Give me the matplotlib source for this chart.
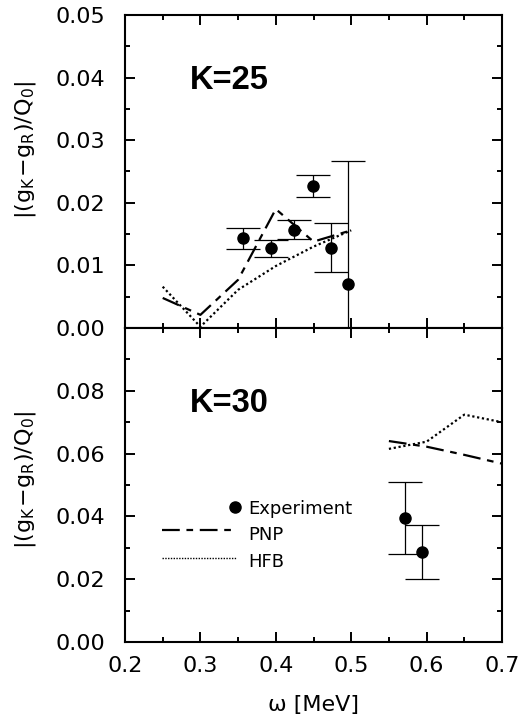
import matplotlib
matplotlib.use("Agg")
import matplotlib.pyplot as plt
from matplotlib.ticker import MultipleLocator, FuncFormatter

plt.rcParams['font.family'] = ['DejaVu Sans']
plt.rcParams['mathtext.fontset'] = 'custom'
plt.rcParams['mathtext.rm'] = 'DejaVu Sans'
plt.rcParams['mathtext.it'] = 'DejaVu Sans'
plt.rcParams['mathtext.bf'] = 'DejaVu Sans:bold'

# ---- data: K=25 panel ----
exp25_w = [0.357, 0.394, 0.424, 0.449, 0.473, 0.496]
exp25_y = [0.0143, 0.0127, 0.0157, 0.0227, 0.0128, 0.0070]
exp25_err = [0.00165, 0.0014, 0.0015, 0.0018, 0.0039, 0.0196]
pnp25_w = [0.25, 0.30, 0.35, 0.40, 0.45, 0.50]
pnp25_y = [0.0048, 0.0021, 0.0077, 0.0190, 0.0138, 0.0156]
hfb25_w = [0.25, 0.30, 0.35, 0.40, 0.45, 0.50]
hfb25_y = [0.0066, 0.0002, 0.0061, 0.0099, 0.0130, 0.0156]

# ---- data: K=30 panel ----
exp30_w = [0.572, 0.594]
exp30_y = [0.0395, 0.0288]
exp30_err = [0.0114, 0.0086]
pnp30_w = [0.55, 0.60, 0.65, 0.70]
pnp30_y = [0.0640, 0.0622, 0.0596, 0.0568]
hfb30_w = [0.55, 0.60, 0.65, 0.70]
hfb30_y = [0.0615, 0.0638, 0.0724, 0.0700]

xticks = [0.2, 0.3, 0.4, 0.5, 0.6, 0.7]
legend_labels = ["Experiment", "PNP", "HFB"]
ylabel_txt = r'$\mathrm{|(g_K\!-\!g_R)/Q_0|}$'

W, H = 521, 719
fig = plt.figure(figsize=(W / 100, H / 100), dpi=100)
L, R = 125, 502
T, M, B = 15, 328, 642
ax1 = fig.add_axes([L / W, (H - M) / H, (R - L) / W, (M - T) / H])
ax2 = fig.add_axes([L / W, (H - B) / H, (R - L) / W, (B - M) / H])

dash_pnp = (8, 3, 3, 3)
dot_hfb = (1, 1.2)
ms = 8
cap = 12

for ax in (ax1, ax2):
    ax.set_xlim(0.2, 0.7)
    ax.xaxis.set_major_locator(MultipleLocator(0.1))
    ax.xaxis.set_minor_locator(MultipleLocator(0.05))
    ax.tick_params(which='both', direction='in', top=True, right=True,
                   width=1.4, labelsize=16)
    ax.tick_params(which='major', length=7)
    ax.tick_params(which='minor', length=3.5)
    ax.tick_params(axis='y', pad=14)
    ax.tick_params(axis='x', pad=10)
    for s in ax.spines.values():
        s.set_linewidth(1.5)

fmt2 = FuncFormatter(lambda v, p: "" if v > 0.095 else f"{v:.2f}")

# top panel
ax1.set_ylim(0, 0.05)
ax1.yaxis.set_major_locator(MultipleLocator(0.01))
ax1.yaxis.set_minor_locator(MultipleLocator(0.005))
ax1.yaxis.set_major_formatter(fmt2)
ax1.tick_params(labelbottom=False)
ax1.plot(pnp25_w, pnp25_y, color='black', lw=1.6, dashes=dash_pnp)
ax1.plot(hfb25_w, hfb25_y, color='black', lw=1.6, dashes=dot_hfb)
ax1.errorbar(exp25_w, exp25_y, yerr=exp25_err, fmt='o', color='black',
             ms=ms, elinewidth=0.9, capsize=cap, capthick=0.9)
ax1.text(0.172, 0.764, "K=25", transform=ax1.transAxes, fontsize=23.5,
         fontweight='bold', va='baseline', ha='left',
         family=['Liberation Sans', 'DejaVu Sans'])

# bottom panel
ax2.set_ylim(0, 0.10)
ax2.yaxis.set_major_locator(MultipleLocator(0.02))
ax2.yaxis.set_minor_locator(MultipleLocator(0.01))
ax2.yaxis.set_major_formatter(fmt2)
ax2.set_xticks(xticks)
ax2.set_xticklabels([f"{v:.1f}" for v in xticks])
ax2.plot(pnp30_w, pnp30_y, color='black', lw=1.6, dashes=dash_pnp)
ax2.plot(hfb30_w, hfb30_y, color='black', lw=1.6, dashes=dot_hfb)
ax2.errorbar(exp30_w, exp30_y, yerr=exp30_err, fmt='o', color='black',
             ms=ms, elinewidth=0.9, capsize=cap, capthick=0.9)
ax2.text(0.172, 0.732, "K=30", transform=ax2.transAxes, fontsize=23.5,
         fontweight='bold', va='baseline', ha='left',
         family=['Liberation Sans', 'DejaVu Sans'])

# axis titles
fig.text(25 / W, 1 - 150 / H, ylabel_txt, rotation=90, ha='center',
         va='center', fontsize=16)
fig.text(25 / W, 1 - 480 / H, ylabel_txt, rotation=90, ha='center',
         va='center', fontsize=16)
fig.text(313 / W, 1 - 705 / H, "ω [MeV]", ha='center', va='center',
         fontsize=16)

# manual legend
ax2.plot([0.292], [0.431], 'o', color='black', ms=ms, transform=ax2.transAxes)
ax2.plot([0.097, 0.296], [0.357, 0.357], color='black', lw=1.6,
         dashes=dash_pnp, transform=ax2.transAxes)
ax2.plot([0.097, 0.296], [0.2666, 0.2666], color='black', lw=1.0,
         dashes=(1, 1), transform=ax2.transAxes)
for lab, yy in zip(legend_labels, [0.408, 0.325, 0.240]):
    ax2.text(0.326, yy, lab, transform=ax2.transAxes, fontsize=13,
             va='baseline', ha='left')

fig.savefig("out.png", dpi=100)
